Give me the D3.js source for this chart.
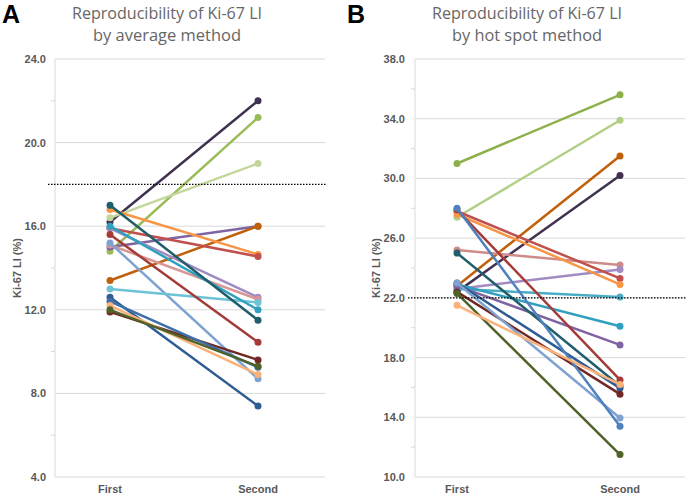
<!DOCTYPE html>
<html><head><meta charset="utf-8">
<script src="https://cdn.jsdelivr.net/npm/d3@7"></script>
<style>body{margin:0;background:#fff}svg{display:block}</style>
</head><body>
<svg id="c" width="690" height="497"></svg>
<script>
// ---------- data ----------
const categories = ["First", "Second"];

// Panel A: Reproducibility by average method
const aTicks = [4, 8, 12, 16, 20, 24];
const aMinor = [6, 10, 14, 18, 22];
const aCutoff = 18;
const aFirst  = [16.2, 14.8, 16.4, 15.0, 13.4, 16.8, 15.9, 15.9, 15.1, 15.2, 13.0, 16.0, 17.0, 15.6, 11.9, 12.6, 12.4, 12.2, 12.0];
const aSecond = [22.0, 21.2, 19.0, 16.0, 16.0, 14.65, 14.55, 12.6, 12.5, 8.7, 12.35, 12.0, 11.5, 10.45, 9.6, 7.4, 9.25, 8.9, 9.3];
const aColors = ["#403151", "#9BBB59", "#C3D69B", "#8064A2", "#C0600A", "#F79646", "#C0504D", "#A18BC2", "#D99694", "#7FA3D0", "#6CC3D6", "#31A0BE", "#215E6B", "#A33B38", "#702826", "#2F5C93", "#3D6FA8", "#FAB27A", "#4F6228"];

// Panel B: Reproducibility by hot spot method
const bTicks = [10, 14, 18, 22, 26, 30, 34, 38];
const bMinor = [12, 16, 20, 24, 28, 32, 36];
const bCutoff = 22;
const bFirst  = [31.0, 27.4, 22.8, 22.4, 25.2, 22.6, 27.8, 27.6, 22.6, 22.9, 22.8, 27.9, 25.0, 23.0, 22.4, 23.0, 28.0, 22.3, 21.5];
const bSecond = [35.6, 33.9, 31.5, 30.2, 24.2, 23.9, 23.3, 22.9, 22.05, 20.1, 18.85, 16.5, 16.1, 15.95, 15.55, 13.95, 13.4, 11.5, 16.2];
const bColors = ["#8DB04B", "#B3CF85", "#C0600A", "#403151", "#D08A88", "#A18BC2", "#C0504D", "#F79646", "#4BACC6", "#31A0BE", "#8064A2", "#A33B38", "#215E6B", "#2F5C93", "#702826", "#7FA3D0", "#4F81BD", "#4F6228", "#FAB27A"];

// ---------- drawing ----------
const svg = d3.select("#c");
const gray = "#595959";

function panel(o) {
  const g = svg.append("g");
  const y = d3.scaleLinear().domain(o.domain).range([477, 59]);
  const x = d3.scalePoint().domain(categories).range(o.xRange);

  // gridlines
  g.selectAll("line.grid").data(o.ticks).join("line")
    .attr("x1", o.axisX).attr("x2", o.gridEnd)
    .attr("y1", d => y(d)).attr("y2", d => y(d))
    .attr("stroke", "#D9D9D9").attr("stroke-width", 1);
  // axis line
  g.append("line").attr("x1", o.axisX).attr("x2", o.axisX)
    .attr("y1", y(o.domain[0])).attr("y2", y(o.domain[1]))
    .attr("stroke", "#D9D9D9");
  // minor ticks
  g.selectAll("line.minor").data(o.minor).join("line")
    .attr("x1", o.axisX - 4).attr("x2", o.axisX)
    .attr("y1", d => y(d)).attr("y2", d => y(d))
    .attr("stroke", "#D9D9D9");

  // y axis labels
  const ax = g.append("g").attr("transform", `translate(${o.axisX},0)`)
    .call(d3.axisLeft(y).tickValues(o.ticks).tickFormat(d3.format(".1f")).tickSize(0).tickPadding(o.pad));
  ax.select(".domain").remove();
  ax.selectAll("text").attr("fill", gray).style("font", "bold 11px 'Liberation Sans', Arial, sans-serif");

  // x labels
  g.selectAll("text.xl").data(categories).join("text")
    .attr("x", d => x(d)).attr("y", 493).attr("text-anchor", "middle")
    .attr("fill", gray).style("font", "bold 11px 'Liberation Sans', Arial, sans-serif")
    .text(d => d);

  // y title
  g.append("text").attr("transform", `translate(${o.titleX},268) rotate(-90)`)
    .attr("text-anchor", "middle").attr("fill", gray)
    .style("font", "bold 11px 'Liberation Sans', Arial, sans-serif")
    .text("Ki-67 LI (%)");

  // title
  g.append("text").attr("x", o.tCenter).attr("y", 19).attr("text-anchor", "middle")
    .attr("fill", "#666").style("font", "16px 'Open Sans', sans-serif")
    .attr("textLength", 190).attr("lengthAdjust", "spacingAndGlyphs")
    .text("Reproducibility of Ki-67 LI");
  g.append("text").attr("x", o.tCenter).attr("y", 41).attr("text-anchor", "middle")
    .attr("fill", "#666").style("font", "16px 'Open Sans', sans-serif")
    .attr("textLength", o.sub[1]).attr("lengthAdjust", "spacingAndGlyphs")
    .text(o.sub[0]);

  // panel letter
  g.append("text").attr("x", o.letterX).attr("y", 23).attr("fill", "#000")
    .style("font", "bold 25px 'Liberation Sans', Arial, sans-serif").text(o.letter);

  // series
  const series = o.first.map((f, i) => ({vals: [f, o.second[i]], color: o.colors[i]}));
  const line = d3.line().x((d, i) => x(categories[i])).y(d => y(d));
  const sg = g.selectAll("g.s").data(series).join("g");
  sg.append("path").attr("d", d => line(d.vals)).attr("fill", "none")
    .attr("stroke", d => d.color).attr("stroke-width", 2.5);
  sg.selectAll("circle").data(d => d.vals.map(v => ({v, c: d.color}))).join("circle")
    .attr("cx", (d, i) => x(categories[i])).attr("cy", d => y(d.v)).attr("r", 3.5)
    .attr("fill", d => d.c);

  // cutoff dotted line
  g.append("line").attr("x1", o.axisX - 7).attr("x2", o.gridEnd + 2)
    .attr("y1", y(o.cutoff)).attr("y2", y(o.cutoff))
    .attr("stroke", "#000").attr("stroke-width", 1.3).attr("stroke-dasharray", "1.5,1.5");
}

panel({domain: [4, 24], ticks: aTicks, minor: aMinor, cutoff: aCutoff, first: aFirst, second: aSecond, colors: aColors,
  xRange: [110, 258], axisX: 55, gridEnd: 325, pad: 9, titleX: 21, tCenter: 167, sub: ["by average method", 148], letter: "A", letterX: 2});
panel({domain: [10, 38], ticks: bTicks, minor: bMinor, cutoff: bCutoff, first: bFirst, second: bSecond, colors: bColors,
  xRange: [457, 620], axisX: 415, gridEnd: 685, pad: 10, titleX: 380, tCenter: 527, sub: ["by hot spot method", 150], letter: "B", letterX: 347});
</script>
</body></html>
